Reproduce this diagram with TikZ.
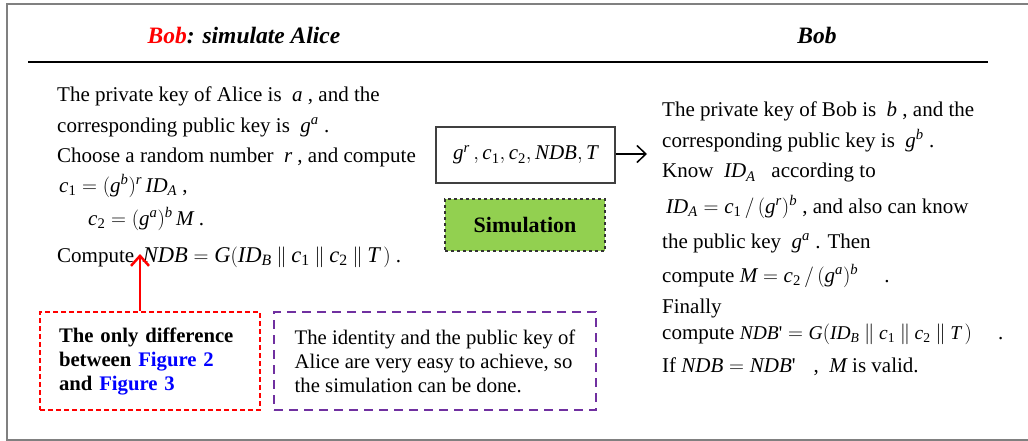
\documentclass[tikz,border=0pt]{standalone}
\usepackage{fontspec}
\setmainfont{Liberation Serif}
\usepackage{amsmath}
\usetikzlibrary{arrows.meta}
\definecolor{simgreen}{RGB}{146,208,80}
\definecolor{purp}{RGB}{112,48,160}
\definecolor{figblue}{RGB}{0,0,255}
\definecolor{framegray}{RGB}{128,128,128}
\newcommand\mv[1]{\text{\itshape #1}}
\newcommand\dbar{\mathbin{\|}}
\newcommand\prm{\text{\textquotesingle}}
\begin{document}
\begin{tikzpicture}[x=1pt,y=-1pt,
  txt/.style={anchor=base west, inner sep=0pt, font=\fontsize{21}{25}\selectfont},
  headtxt/.style={anchor=base, inner sep=0pt, font=\fontsize{23.5}{28}\selectfont\bfseries\itshape},
  msgbox/.style={draw=black!75, line width=1.2pt, minimum width=179, minimum height=56, inner sep=0pt, font=\fontsize{21}{25}\selectfont},
  simbox/.style={draw=black!80, fill=simgreen, dashed, line width=1.2pt, minimum width=160, minimum height=52, inner sep=0pt, font=\fontsize{22}{26}\selectfont\bfseries},
  notebox/.style={anchor=north west, line width=2pt, minimum height=98, inner sep=0pt, align=left, font=\fontsize{20.7}{24}\selectfont},
  redbox/.style={notebox, draw=red, dash pattern=on 5pt off 3pt, minimum width=220, text width=182, inner xsep=19},
  purpbox/.style={notebox, draw=purp, dash pattern=on 9pt off 6pt, minimum width=322},
  msgarrow/.style={line width=1.5pt, -{Straight Barb[length=9,width=17,line width=1.5pt]}},
  redarrow/.style={red, line width=2.5pt, -{Straight Barb[length=10,width=18,line width=2.5pt]}}
]
\useasboundingbox (0,0) rectangle (1028,441);
% frame
\draw[framegray, line width=2pt] (1040,4) -- (7,4) -- (7,440) -- (1040,440);
% header
\node[headtxt] (hleft) at (244,44) {\textcolor{red}{Bob}: simulate Alice};
\node[headtxt] (hright) at (817,44) {Bob};
\draw[line width=1.6pt] (28,62) -- (988,62);

% left text
\node[txt] (l1) at (57,102) {The private key of Alice is \ $\mv{a}$ , and the};
\node[txt] (l2) at (57,132) {corresponding public key is \ $\mv{g}^{\mv{a}}$ .};
\node[txt] (l3) at (57,162) {Choose a random number \ $\mv{r}$ , and compute};
\node[txt] (l4) at (59,192) {$\mv{c}_{\text{1}}=(\mv{g}^{\mv{b}})^{\mv{r}}\,\mv{ID}_{\mv{A}}$ ,};
\node[txt] (l5) at (88,225) {$\mv{c}_{\text{2}}=(\mv{g}^{\mv{a}})^{\mv{b}}\,\mv{M}$ .};
\node[txt] (l6) at (57,262) {Compute \,{\fontsize{22.5}{25}\selectfont$\mv{NDB}=\mv{G}(\mv{ID}_{\mv{B}}\dbar\mv{c}_{\text{1}}\dbar\mv{c}_{\text{2}}\dbar\mv{T}\,)$} .};

% message and simulation
\node[msgbox] (msg) at (525.5,155) {$\mv{g}^{\mv{r}}\,,\mv{c}_{\text{1}},\mv{c}_{\text{2}},\mv{NDB},\mv{T}$};
\coordinate (recv) at (647,154);
\draw[msgarrow] (msg.east |- recv) -- (recv);
\node[simbox] (sim) at (525,225) {Simulation};

% right text
\node[txt] (r1) at (662,117) {The private key of Bob is \ $\mv{b}$ , and the};
\node[txt] (r2) at (662,147) {corresponding public key is \ $\mv{g}^{\mv{b}}$ .};
\node[txt] (r3) at (662,178) {Know \ $\mv{ID}_{\mv{A}}$ \ \ according to};
\node[txt] (r4) at (666,213) {$\mv{ID}_{\mv{A}}=\mv{c}_{\text{1}}\,/\,(\mv{g}^{\mv{r}})^{\mv{b}}$ , and also can know};
\node[txt] (r5) at (662,248) {the public key \ $\mv{g}^{\mv{a}}$ . Then};
\node[txt] (r6) at (662,282) {compute $\mv{M}=\mv{c}_{\text{2}}\,/\,(\mv{g}^{\mv{a}})^{\mv{b}}$ \quad .};
\node[txt] (r7) at (662,313) {Finally};
\node[txt] (r8) at (662,339) {compute {\fontsize{19.5}{25}\selectfont$\mv{NDB}\prm=\mv{G}(\mv{ID}_{\mv{B}}\dbar\mv{c}_{\text{1}}\dbar\mv{c}_{\text{2}}\dbar\mv{T}\,)$} \quad .};
\node[txt] (r9) at (662,372) {If $\mv{NDB}=\mv{NDB}\prm$\hspace{18pt}, \ $\mv{M}$ is valid.};

% note boxes
\node[redbox] (diff) at (39,311) {\textbf{The only difference}\\\textbf{between \textcolor{figblue}{Figure 2}}\\\textbf{and \textcolor{figblue}{Figure 3}}};
\node[purpbox] (easy) at (273,311) {The identity and the public key of\\Alice are very easy to achieve, so\\the simulation can be done.};
\coordinate (tip) at (140,254);
\draw[redarrow] (diff.north -| tip) -- (tip);
\end{tikzpicture}
\end{document}
